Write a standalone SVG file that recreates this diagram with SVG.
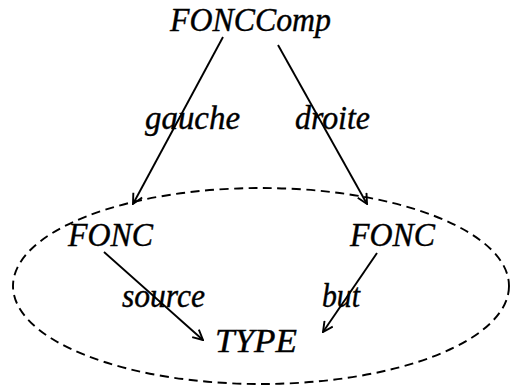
<svg xmlns="http://www.w3.org/2000/svg" width="512" height="388" viewBox="0 0 512 388">
  <style>
    text { font-family: "Liberation Serif", "DejaVu Serif", serif; font-style: italic; font-size: 33px; fill: #000; stroke: #000; stroke-width: 0.4; }
    .edge { stroke: #000; stroke-width: 1.9; fill: none; marker-end: url(#arrow); }
    .group { stroke: #000; stroke-width: 1.9; fill: none; stroke-dasharray: 9 5.5; }
  </style>
  <defs>
    <marker id="arrow" viewBox="0 0 12 12" refX="11" refY="6" markerWidth="12" markerHeight="12" markerUnits="userSpaceOnUse" orient="auto">
      <path d="M1,1 L11,6 L1,11" fill="none" stroke="#000" stroke-width="1.9"/>
    </marker>
  </defs>

  <!-- dashed grouping ellipse -->
  <ellipse class="group" cx="261" cy="286" rx="248" ry="98"/>

  <g id="connectors">
    <line class="edge" x1="223" y1="37" x2="133" y2="204"/>
    <line class="edge" x1="278" y1="45" x2="367" y2="204"/>
    <line class="edge" x1="104" y1="252" x2="203" y2="340"/>
    <line class="edge" x1="377" y1="253" x2="323" y2="332"/>
    <text x="145" y="129" textLength="95" lengthAdjust="spacingAndGlyphs">gauche</text>
    <text x="295" y="129" textLength="75" lengthAdjust="spacingAndGlyphs">droite</text>
    <text x="122" y="307" textLength="83" lengthAdjust="spacingAndGlyphs">source</text>
    <text x="322" y="307" textLength="38" lengthAdjust="spacingAndGlyphs">but</text>
  </g>

  <g id="fonccomp">
    <text x="170" y="31" textLength="161" lengthAdjust="spacingAndGlyphs">FONCComp</text>
  </g>
  <g id="fonc-left">
    <text x="68" y="246" textLength="85" lengthAdjust="spacingAndGlyphs">FONC</text>
  </g>
  <g id="fonc-right">
    <text x="350" y="246" textLength="85" lengthAdjust="spacingAndGlyphs">FONC</text>
  </g>
  <g id="type">
    <text x="215" y="352" textLength="82" lengthAdjust="spacingAndGlyphs">TYPE</text>
  </g>
</svg>
